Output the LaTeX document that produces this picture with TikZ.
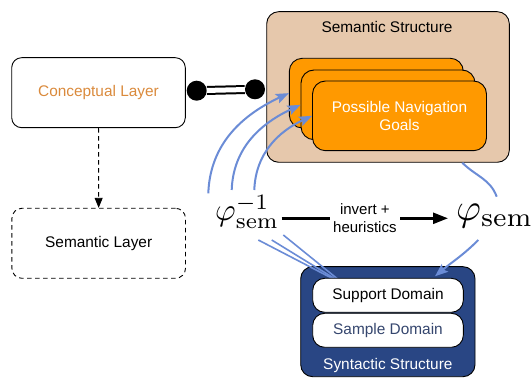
\documentclass[tikz,border=0pt]{standalone}
\usepackage{graphicx}
\usepackage[no-math]{fontspec}
\setmainfont{Liberation Sans}
\usetikzlibrary{arrows.meta}
\definecolor{tanbg}{HTML}{E6C8AC}
\definecolor{navorange}{HTML}{FF9900}
\definecolor{synblue}{HTML}{294684}
\definecolor{mapblue}{HTML}{6B8CD6}
\definecolor{concepttext}{HTML}{DA8A3C}
\definecolor{sampletext}{HTML}{35466E}
\begin{document}
\begin{tikzpicture}[x=1pt,y=1pt,
  every node/.style={font=\fontsize{15.4}{18}\selectfont},
  layerbox/.style={draw=black, line width=0.9pt, rounded corners=10pt,
    minimum width=173.6pt, minimum height=70pt, inner sep=0pt},
  goalbox/.style={draw=black, fill=navorange, line width=0.9pt, rounded corners=13pt,
    minimum width=174pt, minimum height=69.7pt, inner sep=0pt},
  dombox/.style={draw=black, fill=white, line width=0.9pt, rounded corners=12pt,
    minimum width=150.6pt, minimum height=34pt, inner sep=0pt},
  dot/.style={circle, fill=black, minimum size=20pt, inner sep=0pt},
  mapline/.style={draw=mapblue, line width=2pt},
  maptip/.style={-{Stealth[length=13pt,width=10pt,inset=2.5pt]}},
  bigmath/.style={font=\fontsize{10}{12}\selectfont, inner sep=0pt},
]
\useasboundingbox (0,0) rectangle (532,377);
\clip (0,0) rectangle (532,377);

% left column: the two layers
\node[layerbox, text=concepttext] (concept) at (98.5,284.3) {Conceptual Layer};
\node[layerbox, dashed, dash pattern=on 4.5pt off 3.5pt] (semlayer) at (98.7,133.7) {Semantic Layer};
\draw[line width=0.9pt, dashed, dash pattern=on 4.5pt off 3.5pt,
  -{Triangle[length=10pt,width=8pt]}] (concept) -- (semlayer);

% semantic structure with stacked goal cards
\node[draw=black, fill=tanbg, line width=0.9pt, rounded corners=12pt,
  minimum width=242.6pt, minimum height=150.6pt] (semstruct) at (388,290) {};
\node (semtitle) at (387,350.3) {Semantic Structure};
\node[goalbox] (goalA) at (376.3,283.85) {};
\node[goalbox] (goalB) at (388,272.15) {};
\node[goalbox, text=white, align=center] (goalC) at (399.5,261.15) {Possible Navigation\\Goals};

% link between conceptual layer and semantic structure
\node[dot] (linkL) at (196.7,286.3) {};
\node[dot] (linkR) at (255,287.7) {};
\draw[line width=2pt, double=white, double distance=5pt] (linkL) -- (linkR);

% syntactic structure
\node[draw=black, fill=synblue, line width=0.9pt, rounded corners=12pt,
  minimum width=174.3pt, minimum height=110pt] (synstruct) at (387.85,55.3) {};
\node[text=white] (syntitle) at (387.85,11) {Syntactic Structure};

% mapping symbols
\node[bigmath, anchor=base west] (phiinv) at (215,156) {\scalebox{3.15}{$\varphi_{\mathrm{sem}}^{-1}$}};
\node[bigmath, anchor=base west] (phi) at (456,156) {\scalebox{3.8}{$\varphi_{\mathrm{sem}}$}};
\coordinate (arrstart) at (281.7,158.7);
\draw[line width=2.5pt, -{Triangle[length=15pt,width=11pt]}]
  (arrstart) -- node[fill=white, align=center, inner sep=3pt,
    font=\fontsize{15}{17.4}\selectfont] {invert +\\heuristics}
  ([xshift=-8pt]arrstart -| phi.west);

% inverse map fans out onto the goal cards
\coordinate (u1) at (208.3,183.7);
\coordinate (u2) at (231.7,187);
\coordinate (u3) at (254.3,187);
\draw[mapline, maptip] (u1) to[out=88,in=205] (goalA.west);
\draw[mapline, maptip] (u2) to[out=88,in=205] (goalB.west);
\draw[mapline, maptip] (u3) to[out=88,in=205] (goalC.west);

% inverse map drawn from the support domain
\coordinate (l1) at (258.3,137);
\coordinate (l2) at (271.7,137);
\coordinate (l3) at (283.3,142);
\coordinate (lt) at (345,92);
\draw[mapline, line width=1.6pt] (l1) -- (lt);
\draw[mapline, line width=1.6pt] (l2) -- (lt);
\draw[mapline, line width=1.6pt] (l3) -- (lt);

\node[dombox] (support) at (388,81.7) {Support Domain};
\node[dombox, text=sampletext] (sample) at (388,46.7) {Sample Domain};

% forward map from semantic structure through phi to support domain
\coordinate (r0) at ([xshift=74.3pt]semstruct.south);
\coordinate (r1) at (496.7,180.3);
\coordinate (r2) at (478.3,137);
\coordinate (r3) at ([xshift=47pt,yshift=1.6pt]support.north);
\draw[mapline] (r0) to[out=-45,in=110] (r1);
\draw[mapline, maptip] (r2) to[out=-135,in=40] (r3);
\end{tikzpicture}
\end{document}
